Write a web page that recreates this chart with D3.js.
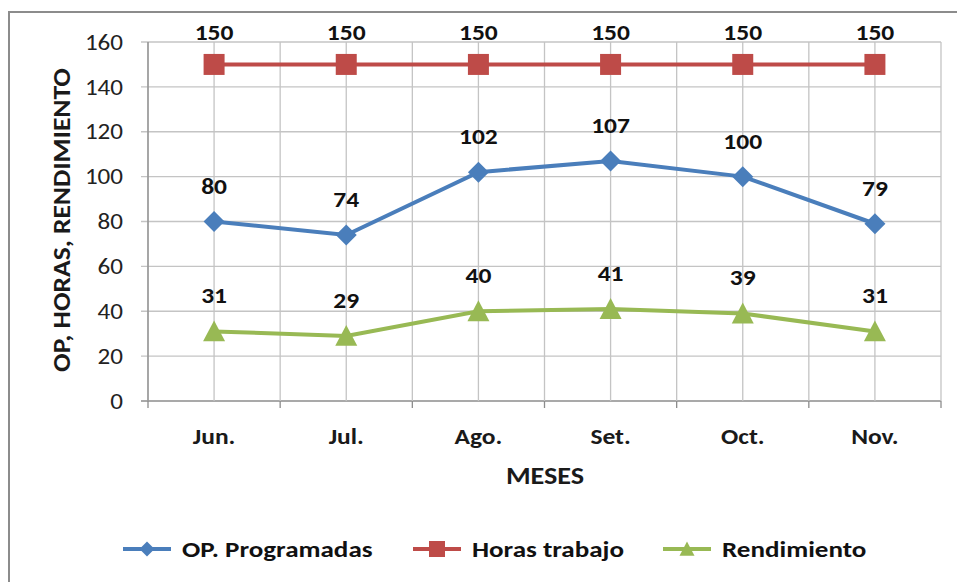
<!DOCTYPE html>
<html>
<head>
<meta charset="utf-8">
<script src="https://cdn.jsdelivr.net/npm/d3@7"></script>
<style>
  body { margin: 0; background: #fff; }
  svg { display: block; font-family: Carlito, Lato, "Open Sans", sans-serif; }
</style>
</head>
<body>
<div id="chart"></div>
<script>
// chart data
const months = ["Jun.", "Jul.", "Ago.", "Set.", "Oct.", "Nov."];
const opProgramadas = [80, 74, 102, 107, 100, 79];
const horasTrabajo = [150, 150, 150, 150, 150, 150];
const rendimiento = [31, 29, 40, 41, 39, 31];
const yTicks = [0, 20, 40, 60, 80, 100, 120, 140, 160];

const series = [
  {name: "OP. Programadas", values: opProgramadas, color: "#4a7ebb", marker: "diamond", labelGap: 28},
  {name: "Horas trabajo", values: horasTrabajo, color: "#be4b48", marker: "square", labelGap: 24},
  {name: "Rendimiento", values: rendimiento, color: "#98b954", marker: "triangle", labelGap: 28}
];

const width = 957, height = 582;
const margin = {top: 42, right: 16, bottom: 181, left: 148};

const svg = d3.select("#chart").append("svg")
    .attr("width", width)
    .attr("height", height);

// the original text looks a bit wider than plain Calibri, so stretch it
function place(x, y, sx) {
  return `translate(${x},${y}) scale(${sx},1)`;
}

// outer chart border
svg.append("rect")
    .attr("x", 9).attr("y", 12)
    .attr("width", 980).attr("height", 600)
    .attr("fill", "none")
    .attr("stroke", "#8c8c8c")
    .attr("stroke-width", 2);

const x = d3.scaleBand()
    .domain(months)
    .range([margin.left, width - margin.right]);

const y = d3.scaleLinear()
    .domain([0, 160])
    .range([height - margin.bottom, margin.top]);

const cx = d => x(d) + x.bandwidth() / 2;

// horizontal gridlines
svg.append("g")
  .selectAll("line")
  .data(yTicks)
  .enter().append("line")
    .attr("x1", margin.left - 7)
    .attr("x2", width - margin.right)
    .attr("y1", d => y(d))
    .attr("y2", d => y(d))
    .attr("stroke", d => d === 0 ? "#8c8c8c" : "#c4c4c4")
    .attr("stroke-width", 1.3);

// vertical gridlines at centres and boundaries
const vx = [];
months.forEach(m => { vx.push(x(m)); vx.push(cx(m)); });
vx.push(x.range()[1]);
svg.append("g")
  .selectAll("line")
  .data(vx)
  .enter().append("line")
    .attr("x1", d => d).attr("x2", d => d)
    .attr("y1", margin.top)
    .attr("y2", y(0))
    .attr("stroke", "#c4c4c4")
    .attr("stroke-width", 1.3);

// axis lines
svg.append("line")
    .attr("x1", margin.left).attr("x2", margin.left)
    .attr("y1", margin.top).attr("y2", y(0) + 7)
    .attr("stroke", "#8c8c8c").attr("stroke-width", 1.3);
svg.append("g")
  .selectAll("line")
  .data(vx.filter((d, i) => i % 2 === 0 && i > 0))
  .enter().append("line")
    .attr("x1", d => d).attr("x2", d => d)
    .attr("y1", y(0)).attr("y2", y(0) + 7)
    .attr("stroke", "#8c8c8c").attr("stroke-width", 1.3);

// y tick labels
svg.append("g")
  .selectAll("text")
  .data(yTicks)
  .enter().append("text")
    .attr("transform", d => place(123, y(d), 1.14))
    .attr("dy", "0.35em")
    .attr("text-anchor", "end")
    .attr("font-size", 22)
    .attr("fill", "#222")
    .text(d => d);

// x tick labels
svg.append("g")
  .selectAll("text")
  .data(months)
  .enter().append("text")
    .attr("transform", d => place(cx(d), 444, 1.16))
    .attr("text-anchor", "middle")
    .attr("font-size", 22)
    .attr("font-weight", "bold")
    .attr("fill", "#1a1a1a")
    .text(d => d);

// axis titles
svg.append("text")
    .attr("transform", place(545, 484, 1.2))
    .attr("text-anchor", "middle")
    .attr("font-size", 23.5)
    .attr("font-weight", "bold")
    .attr("fill", "#1a1a1a")
    .text("MESES");

svg.append("text")
    .attr("transform", "translate(70,220) rotate(-90) scale(1.1,1)")
    .attr("text-anchor", "middle")
    .attr("font-size", 25)
    .attr("font-weight", "bold")
    .attr("fill", "#1a1a1a")
    .text("OP, HORAS, RENDIMIENTO");

function markerPath(type, size) {
  const s = size / 2;
  if (type === "diamond") return `M0,${-s}L${s},0L0,${s}L${-s},0Z`;
  if (type === "square") return `M${-s},${-s}H${s}V${s}H${-s}Z`;
  return `M0,${-s}L${s},${s * 0.9}L${-s},${s * 0.9}Z`;
}
const markerSize = {diamond: 21, square: 21, triangle: 22};

const line = d3.line()
    .x((d, i) => cx(months[i]))
    .y(d => y(d));

series.forEach(s => {
  const g = svg.append("g");
  g.append("path")
      .datum(s.values)
      .attr("d", line)
      .attr("fill", "none")
      .attr("stroke", s.color)
      .attr("stroke-width", 4);
  g.selectAll("path.m")
    .data(s.values)
    .enter().append("path")
      .attr("class", "m")
      .attr("transform", (d, i) => `translate(${cx(months[i])},${y(d)})`)
      .attr("d", markerPath(s.marker, markerSize[s.marker]))
      .attr("fill", s.color);
  g.selectAll("text")
    .data(s.values)
    .enter().append("text")
      .attr("transform", (d, i) => place(cx(months[i]), y(d) - s.labelGap, 1.16))
      .attr("text-anchor", "middle")
      .attr("font-size", 22)
      .attr("font-weight", "bold")
      .attr("fill", "#111")
      .text(d => d);
});

// legend
const legendX = [123, 413, 663];
const legend = svg.append("g");
series.forEach((s, i) => {
  const lg = legend.append("g").attr("transform", `translate(${legendX[i]},549)`);
  lg.append("line")
      .attr("x1", 0).attr("x2", 48)
      .attr("stroke", s.color).attr("stroke-width", 4);
  lg.append("path")
      .attr("transform", "translate(24,0)")
      .attr("d", markerPath(s.marker, s.marker === "square" ? 16 : 15))
      .attr("fill", s.color);
  lg.append("text")
      .attr("transform", place(59, 0, 1.23))
      .attr("dy", "0.35em")
      .attr("font-size", 22)
      .attr("font-weight", "bold")
      .attr("fill", "#111")
      .text(s.name);
});
</script>
</body>
</html>
